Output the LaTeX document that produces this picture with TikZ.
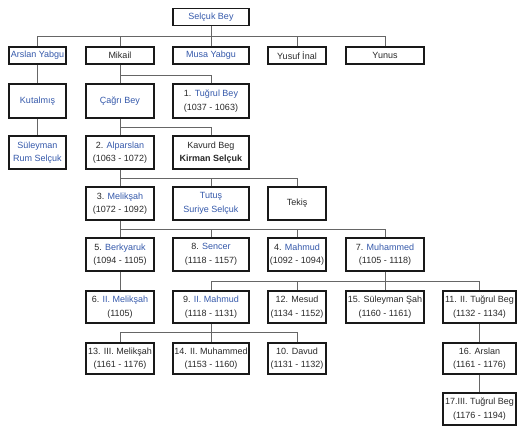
\documentclass[tikz,border=0pt]{standalone}
\usepackage{fontspec}
\setmainfont{Liberation Sans}
\definecolor{linkblue}{RGB}{52,88,170}
\definecolor{textgray}{RGB}{40,40,40}
\newcommand{\lnk}[1]{\textcolor{linkblue}{#1}}
\begin{document}
\begin{tikzpicture}[x=1pt,y=-1pt,
	box/.style={draw=black!90,line width=1.1pt,inner sep=0pt,align=center,
		text=textgray,font=\fontsize{9}{13.5}\selectfont,minimum height=#1},
	box/.default=17pt,
	link/.style={draw=black!60,line width=.8pt}]
\useasboundingbox (0,0) rectangle (530,431);
% row 1 and 2
\node[box,minimum width=76pt](selcuk) at (211,17){\lnk{Selçuk Bey}};
\node[box,minimum width=57pt](arslanyabgu) at (37.5,55.5){\lnk{Arslan Yabgu}};
\node[box,minimum width=68pt](mikail) at (120,55.5){Mikail};
\node[box,minimum width=76pt](musa) at (211,55.5){\lnk{Musa Yabgu}};
\node[box,minimum width=58pt](yusuf) at (297,55.5){Yusuf İnal};
\node[box,minimum width=78pt](yunus) at (385,55.5){Yunus};
% row 3 and 4
\node[box=34pt,minimum width=57pt](kutalmis) at (37.5,101){\lnk{Kutalmış}};
\node[box=34pt,minimum width=68pt](cagri) at (120,101){\lnk{Çağrı Bey}};
\node[box=34pt,minimum width=76pt](tugrul) at (211,101){1. \lnk{Tuğrul Bey}\\(1037 - 1063)};
\node[box=33pt,minimum width=57pt](suleyman) at (37.5,152.5){\lnk{Süleyman}\\\lnk{Rum Selçuk}};
\node[box=33pt,minimum width=68pt](alparslan) at (120,152.5){2. \lnk{Alparslan}\\(1063 - 1072)};
\node[box=33pt,minimum width=76pt](kavurd) at (211,152.5){Kavurd Beg\\\textbf{Kirman Selçuk}};
% row 5 and 6
\node[box=33pt,minimum width=68pt](meliksah) at (120,203.5){3. \lnk{Melikşah}\\(1072 - 1092)};
\node[box=33pt,minimum width=76pt](tutus) at (211,203.5){\lnk{Tutuş}\\\lnk{Suriye Selçuk}};
\node[box=33pt,minimum width=58pt](tekis) at (297,203.5){Tekiş};
\node[box=33pt,minimum width=68pt](berkyaruk) at (120,254.5){5. \lnk{Berkyaruk}\\(1094 - 1105)};
\node[box=33pt,minimum width=76pt](sencer) at (211,254.5){8. \lnk{Sencer}\\(1118 - 1157)};
\node[box=33pt,minimum width=58pt](mahmud) at (297,254.5){4. \lnk{Mahmud}\\(1092 - 1094)};
\node[box=33pt,minimum width=78pt](muhammed) at (385,254.5){7. \lnk{Muhammed}\\(1105 - 1118)};
% row 7
\node[box=32pt,minimum width=68pt](meliksahii) at (120,307){6. \lnk{II. Melikşah}\\(1105)};
\node[box=32pt,minimum width=76pt](mahmudii) at (211,307){9. \lnk{II. Mahmud}\\(1118 - 1131)};
\node[box=32pt,minimum width=58pt](mesud) at (297,307){12. Mesud\\(1134 - 1152)};
\node[box=32pt,minimum width=78pt](suleymansah) at (385,307){15. Süleyman Şah\\(1160 - 1161)};
\node[box=32pt,minimum width=73pt](tugrulii) at (479.5,307){11. II. Tuğrul Beg\\(1132 - 1134)};
% row 8 and 9
\node[box=31pt,minimum width=68pt](meliksahiii) at (120,358.5){13. III. Melikşah\\(1161 - 1176)};
\node[box=31pt,minimum width=76pt](muhammedii) at (211,358.5){14. II. Muhammed\\(1153 - 1160)};
\node[box=31pt,minimum width=58pt](davud) at (297,358.5){10. Davud\\(1131 - 1132)};
\node[box=31pt,minimum width=73pt](arslan) at (479.5,358.5){16. Arslan\\(1161 - 1176)};
\node[box=32pt,minimum width=73pt](tugruliii) at (479.5,409){17.III. Tuğrul Beg\\(1176 - 1194)};
% junctions
\coordinate(j1) at (211,36);
\coordinate(j2) at (120,75);
\coordinate(j3) at (120,127);
\coordinate(j4) at (120,178);
\coordinate(j5) at (120,229);
\coordinate(j6) at (385,281);
\coordinate(j7) at (211,332);
% connectors
\draw[link] (selcuk)--(j1);
\foreach \n in {arslanyabgu,mikail,musa,yusuf,yunus}
	\draw[link] (\n.north)|-(j1);
\draw[link] (arslanyabgu)--(kutalmis) (kutalmis)--(suleyman);
\draw[link] (mikail)--(cagri) (tugrul.north)|-(j2);
\draw[link] (cagri.south)--(alparslan.north) (kavurd.north)|-(j3);
\draw[link] (alparslan)--(meliksah);
\foreach \n in {tutus,tekis}
	\draw[link] (\n.north)|-(j4);
\draw[link] (meliksah)--(berkyaruk);
\foreach \n in {sencer,mahmud,muhammed}
	\draw[link] (\n.north)|-(j5);
\draw[link] (berkyaruk)--(meliksahii);
\draw[link] (muhammed)--(suleymansah);
\foreach \n in {mahmudii,mesud,tugrulii}
	\draw[link] (\n.north)|-(j6);
\draw[link] (mahmudii)--(muhammedii);
\foreach \n in {meliksahiii,davud}
	\draw[link] (\n.north)|-(j7);
\draw[link] (tugrulii)--(arslan) (arslan)--(tugruliii);
\end{tikzpicture}
\end{document}
